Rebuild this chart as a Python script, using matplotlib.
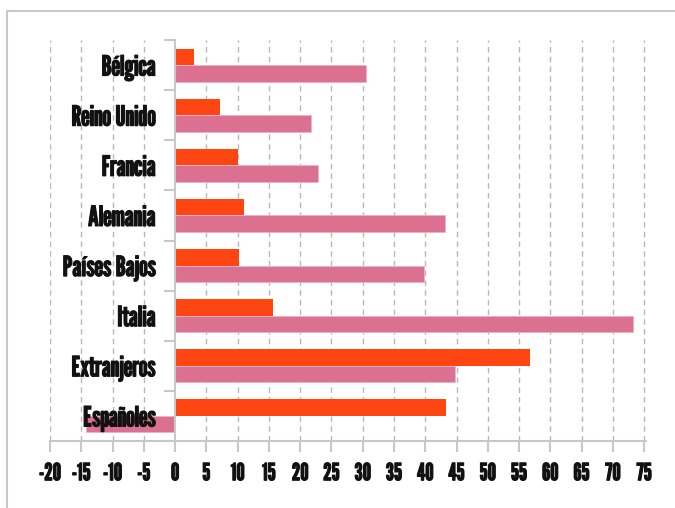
import matplotlib
matplotlib.use("Agg")
import matplotlib.pyplot as plt
import matplotlib.patheffects as pe
from matplotlib.patches import Rectangle
import numpy as np

categories = ["Bélgica", "Reino Unido", "Francia", "Alemania", "Países Bajos",
              "Italia", "Extranjeros", "Españoles"]
serie_naranja = [3.1, 7.2, 10.1, 11.1, 10.2, 15.6, 56.8, 43.4]
serie_rosa = [30.6, 21.8, 22.9, 43.2, 39.8, 73.2, 44.7, -14.3]
xticks = list(range(-20, 80, 5))

FONT = ["League Gothic", "Oswald", "DejaVu Sans"]
plt.rcParams['font.family'] = FONT

fig = plt.figure(figsize=(6.75, 5.08), dpi=100)
# outer frame (partially cut off at right/bottom)
fig.patches.append(Rectangle((7/675, -0.1), 1.2, (508-11)/508 + 0.1,
                             transform=fig.transFigure, fill=False,
                             edgecolor="#c8c8c8", linewidth=1.5))

ax = fig.add_axes([50/675, (508-441)/508, (646-50)/675, (441-40)/508])

n = len(categories)
y = np.arange(n)
h = 0.33
ax.barh(y - h/2, serie_naranja, height=h, color="#ff4511", zorder=1.2)
ax.barh(y + h/2, serie_rosa, height=h, color="#dc7090",
        edgecolor="#f0b0c4", linewidth=0.6, zorder=1.2)

ax.set_ylim(n - 0.5, -0.5)
ax.set_xlim(-20, 75.3)

for xv in xticks:
    if xv != 0:
        ax.axvline(xv, color="#b8b8b8", linewidth=1, linestyle=(0, (4, 3)), zorder=0.5)

for s in ["top", "right"]:
    ax.spines[s].set_visible(False)
ax.spines["left"].set_position(("data", 0))
ax.spines["left"].set_color("#c8c8c8")
ax.spines["left"].set_linewidth(1.5)
ax.spines["bottom"].set_color("#c8c8c8")
ax.spines["bottom"].set_linewidth(1.5)

stroke = [pe.withStroke(linewidth=0.8, foreground="#111111")]

ax.set_xticks(xticks)
ax.set_xticklabels([str(v) for v in xticks], fontsize=17, color="#111111")
ax.tick_params(axis="x", length=8, width=1.5, color="#c8c8c8", pad=8)

ax.set_yticks(y)
ax.set_yticklabels(categories, fontsize=20, color="#111111")
ax.set_yticks(np.arange(n + 1) - 0.5, minor=True)
ax.tick_params(axis="y", which="major", length=0, pad=14)
ax.tick_params(axis="y", which="minor", length=8, width=1.5, color="#c8c8c8")

for t in ax.get_xticklabels() + ax.get_yticklabels():
    t.set_path_effects(stroke)

fig.savefig("out.png", dpi=100)
